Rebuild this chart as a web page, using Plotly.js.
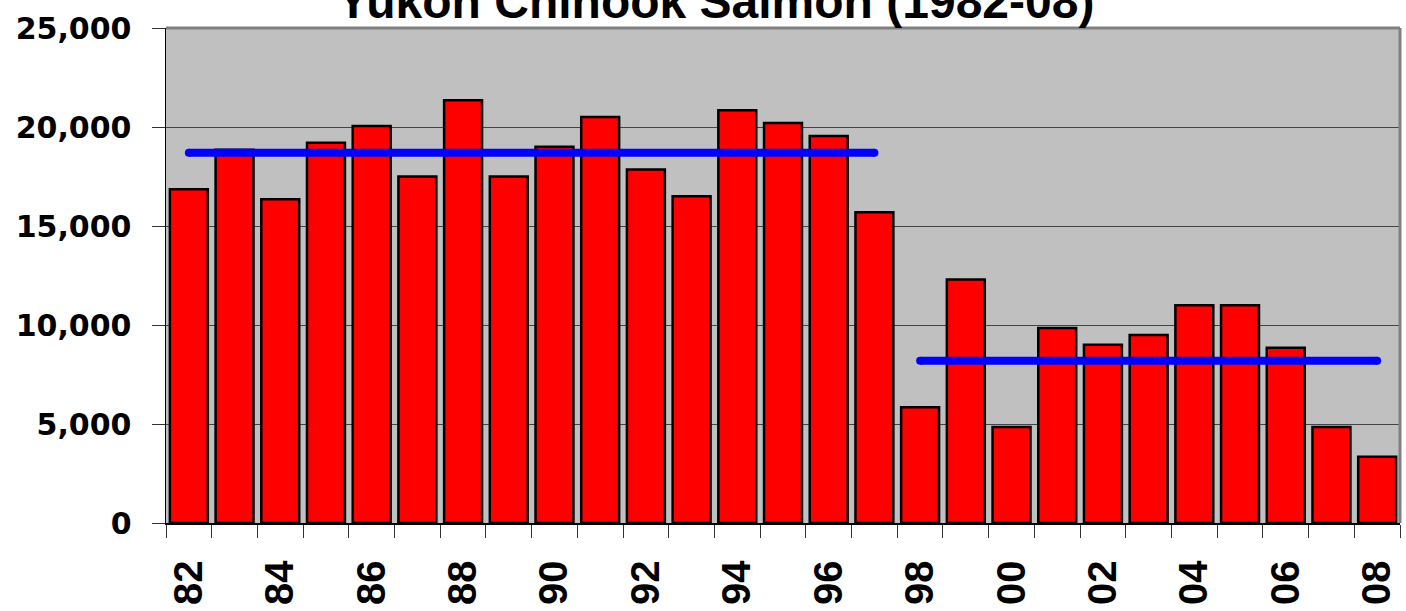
<!DOCTYPE html>
<html>
<head>
<meta charset="utf-8">
<script src="https://cdn.plot.ly/plotly-3.0.1.min.js"></script>
<style>
  html, body { margin: 0; padding: 0; background: #fff; }
  #chart { width: 1406px; height: 611px; }
</style>
</head>
<body>
<div id="chart"></div>
<script>
// Yukon Chinook salmon counts, 1982-2008
const years = ["82", "83", "84", "85", "86", "87", "88", "89", "90", "91", "92", "93", "94",
  "95", "96", "97", "98", "99", "00", "01", "02", "03", "04", "05", "06", "07", "08"];
const fishCounts = [16850, 18850, 16350, 19200, 20050, 17500, 21350, 17500, 19000, 20500,
  17850, 16500, 20850, 20200, 19550, 15700, 5850, 12300, 4850, 9850, 9000, 9500, 11000,
  11000, 8850, 4850, 3350];

// only every other year gets a label
const yearLabels = ["82", "", "84", "", "86", "", "88", "", "90", "", "92", "", "94", "",
  "96", "", "98", "", "00", "", "02", "", "04", "", "06", "", "08"];

// period averages (blue bars across the chart)
const earlyYears = ["82", "97"];
const earlyAvg = [18700, 18700];
const lateYears = ["98", "08"];
const lateAvg = [8200, 8200];

const yTicks = [0, 5000, 10000, 15000, 20000, 25000];
const yTickText = ["0", "5,000", "10,000", "15,000", "20,000", "25,000"];

const avgLine = (x, y) => ({
  x, y,
  type: "scatter",
  mode: "lines+markers",
  line: { color: "#0000ff", width: 8 },
  marker: { color: "#0000ff", size: 8 },
  hoverinfo: "skip",
  showlegend: false
});

const traces = [
  {
    x: years,
    y: fishCounts,
    type: "bar",
    marker: { color: "#ff0000", line: { color: "#000", width: 2.5 } },
    showlegend: false
  },
  avgLine(earlyYears, earlyAvg),
  avgLine(lateYears, lateAvg)
];

const layout = {
  width: 1406,
  height: 611,
  margin: { l: 166, r: 6, t: 28, b: 88 },
  paper_bgcolor: "#ffffff",
  plot_bgcolor: "#c0c0c0",
  bargap: 0.17,
  title: {
    text: "Yukon Chinook Salmon (1982-08)",
    font: { family: "Arial, Liberation Sans, sans-serif", size: 48, color: "#000", weight: "bold" },
    x: 0.509,
    xanchor: "center",
    y: 0.9985,
    yref: "container",
    yanchor: "middle"
  },
  xaxis: {
    type: "category",
    range: [-0.5, years.length - 0.5],
    tickvals: years,
    ticktext: yearLabels,
    tickson: "boundaries",
    tickangle: -90,
    ticks: "outside",
    ticklen: 13,
    tickcolor: "#333",
    ticklabelstandoff: 20,
    tickfont: { family: "Arial, Liberation Sans, sans-serif", size: 40, color: "#000", weight: "bold" },
    showline: true,
    linecolor: "#000",
    linewidth: 1.5,
    showgrid: false,
    mirror: false,
    fixedrange: true
  },
  yaxis: {
    range: [0, 25000],
    tickvals: yTicks,
    ticktext: yTickText,
    ticks: "outside",
    ticklen: 13,
    tickcolor: "#333",
    ticklabelstandoff: 14,
    tickfont: { family: "DejaVu Sans, sans-serif", size: 30, color: "#000", weight: "bold" },
    showline: true,
    linecolor: "#000",
    linewidth: 1.5,
    showgrid: true,
    gridcolor: "#444",
    gridwidth: 1,
    zeroline: false,
    fixedrange: true
  },
  shapes: [
    // grey frame on top and right of the plot area
    { type: "line", xref: "paper", yref: "paper", x0: 0, x1: 1, y0: 1, y1: 1,
      line: { color: "#808080", width: 3 } },
    { type: "line", xref: "paper", yref: "paper", x0: 1, x1: 1, y0: 0, y1: 1,
      line: { color: "#808080", width: 3 } }
  ]
};

Plotly.newPlot("chart", traces, layout, { displayModeBar: false, staticPlot: true });
</script>
</body>
</html>
